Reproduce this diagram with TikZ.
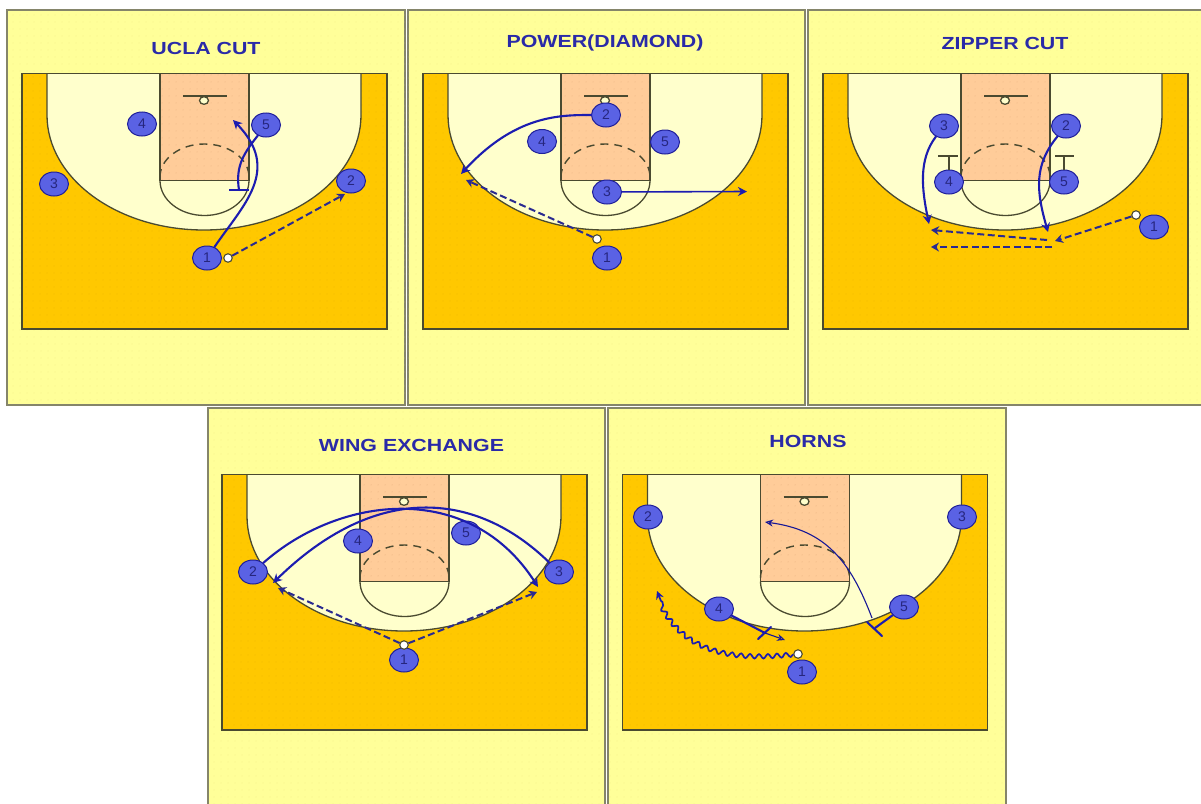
\documentclass[tikz,border=0pt]{standalone}
\usepackage{fontspec}
\setmainfont{Liberation Sans}
\usetikzlibrary{shapes.geometric,arrows.meta,patterns.meta,decorations.pathmorphing}
\definecolor{panelc}{HTML}{FFFF99}
\definecolor{paneld}{HTML}{E8E080}
\definecolor{courtc}{HTML}{FFC800}
\definecolor{courtd}{HTML}{E0AC00}
\definecolor{keyc}{HTML}{FFFFCC}
\definecolor{lanec}{HTML}{FFCC99}
\definecolor{laned}{HTML}{E4A878}
\definecolor{framec}{HTML}{85856A}
\definecolor{linec}{HTML}{4A4A30}
\definecolor{tokenc}{HTML}{5A62E4}
\definecolor{tokenb}{HTML}{20209A}
\definecolor{numc}{HTML}{26267E}
\definecolor{cutc}{HTML}{1C1CB0}
\definecolor{passc}{HTML}{2A2A90}
\definecolor{titlec}{HTML}{2A2AA8}
\tikzset{
  player/.style={shape=ellipse,draw=tokenb,fill=tokenc,line width=1pt,minimum width=29pt,minimum height=24pt,inner sep=0pt,text=numc,font=\fontsize{14}{14}\selectfont},
  ball/.style={shape=circle,draw=linec,fill=white,line width=1.1pt,minimum size=8.5pt,inner sep=0pt},
  title/.style={text=titlec,font=\bfseries\fontsize{17.5}{18}\selectfont,xscale=1.22,inner sep=0pt},
  cut/.style={draw=cutc,line width=2.1pt,line cap=round,-{Stealth[length=9pt,width=9pt]}},
  thincut/.style={draw=cutc!85!black,line width=1.1pt,-{Stealth[length=8pt,width=7pt,open]}},
  pass/.style={draw=passc,line width=2pt,dash pattern=on 7pt off 3.5pt,-{Stealth[length=8pt,width=9pt]}},
  screenline/.style={draw=cutc,line width=2.1pt,line cap=round},
  screenbar/.style={draw=linec,line width=1.8pt},
  panelbox/.style={draw=framec,line width=1.6pt,fill=panelc},
  wiggle/.style={draw=cutc,line width=1.7pt,-{Stealth[length=8pt,width=8pt]},decorate,decoration={snake,amplitude=2.2pt,segment length=9pt,post length=8pt}}
}
\newcommand{\courtbase}[2]{%
\begin{scope}[shift={(#1,#2)}]
  \fill[courtc] (22,73.5) rectangle (387,329);
  \path[pattern={Dots[distance=6.5pt,radius=0.5pt]},pattern color=courtd] (22,73.5) rectangle (387,329);
  \path[fill=keyc] (47,73.5) -- (47,115) arc[start angle=180,end angle=0,x radius=157,y radius=115] -- (361,73.5) -- cycle;
  \draw[linec,line width=1.3pt] (47,73.5) -- (47,115) arc[start angle=180,end angle=0,x radius=157,y radius=115] -- (361,73.5);
  \fill[lanec] (160,73.5) rectangle (249,180.5);
  \path[pattern={Dots[distance=6.5pt,radius=0.5pt]},pattern color=laned] (160,73.5) rectangle (249,180.5);
  \draw[linec,line width=1.3pt] (160,73.5) -- (160,180.5) -- (249,180.5) -- (249,73.5);
  \draw[linec,line width=1.3pt] (160,180.5) arc[start angle=180,end angle=0,x radius=44.5,y radius=35];
  \draw[linec,line width=1.4pt,dash pattern=on 8pt off 6pt] (160,177) arc[start angle=180,end angle=360,x radius=44.5,y radius=33];
  \draw[linec,line width=1.3pt] (183,96) -- (227,96);
  \draw[linec,line width=1.3pt,fill=keyc] (204,100.5) ellipse[x radius=4.5,y radius=3.8];
  \draw[linec,line width=1.6pt] (22,73.5) rectangle (387,329);
\end{scope}}
\begin{document}
\begin{tikzpicture}[x=1pt,y=-1pt]
\useasboundingbox[fill=white] (0,0) rectangle (1201,803);
% panels
\path[panelbox] (7,10) rectangle (405,405);
\path[panelbox] (408,10) rectangle (805,405);
\path[panelbox] (808,10) rectangle (1206,405);
\path[panelbox] (208,408) rectangle (605,810);
\path[panelbox] (608,408) rectangle (1006,810);
\foreach \a/\b/\c/\d in {7/10/405/405,408/10/805/405,808/10/1201/405,208/408/605/803,608/408/1006/803}
  \path[pattern={Dots[distance=6.5pt,radius=0.5pt]},pattern color=paneld] (\a,\b) rectangle (\c,\d);
\courtbase{0}{0}
\courtbase{401}{0}
\courtbase{801}{0}
\courtbase{200}{401}
\courtbase{600.5}{401}
% titles
\node[title] (ta) at (206,48) {UCLA CUT};
\node[title] (tb) at (605,43) {POWER(DIAMOND)};
\node[title] (tc) at (1005,43) {ZIPPER CUT};
\node[title] (td) at (411.5,445) {WING EXCHANGE};
\node[title] (te) at (808,441) {HORNS};
% ---------- UCLA CUT
\node[player] (a1) at (207,258) {1};
\node[player] (a2) at (351,181) {2};
\node[player] (a3) at (54,184) {3};
\node[player] (a4) at (142,124) {4};
\node[player] (a5) at (266,125) {5};
\node[ball] (ab) at (228,258) {};
\coordinate (ae1) at (233,120);
\coordinate (ae2) at (345,194);
\coordinate (as) at (239,190);
\coordinate (asl) at (229,190);
\coordinate (asr) at (249,190);
\draw[cut] (a1) .. controls (243,205) and (282,170) .. (ae1);
\draw[screenline] (a5) .. controls (245,152) and (235,165) .. (as);
\draw[screenbar,draw=cutc] (asl) -- (asr);
\draw[pass] (ab) -- (ae2);
% ---------- POWER
\node[player] (b1) at (607,258) {1};
\node[player] (b2) at (606,115) {2};
\node[player] (b3) at (607,192) {3};
\node[player] (b4) at (542,141.5) {4};
\node[player] (b5) at (665,142) {5};
\node[ball] (bb) at (597,239) {};
\coordinate (be1) at (461,174);
\coordinate (be2) at (747,191.5);
\coordinate (be3) at (466,180);
\draw[cut] (b2) .. controls (560,115) and (515,115) .. (be1);
\draw[cut,line width=1.6pt] (b3) -- (be2);
\draw[pass] (bb) -- (be3);
% ---------- ZIPPER CUT
\node[player] (c1) at (1154,227) {1};
\node[player] (c2) at (1066,126) {2};
\node[player] (c3) at (944,126) {3};
\node[player] (c4) at (949,182) {4};
\node[player] (c5) at (1064,182) {5};
\node[ball] (cb) at (1136,215) {};
\coordinate (ce1) at (929,224);
\coordinate (ce2) at (1048,232);
\coordinate (ce3) at (1055,241);
\coordinate (cp1) at (1047,240);
\coordinate (cq1) at (931,230);
\coordinate (cp2) at (1052,247);
\coordinate (cq2) at (931,247);
\coordinate (cs1a) at (949,156);
\coordinate (cs1l) at (938,156);
\coordinate (cs1r) at (958,156);
\coordinate (cs2a) at (1064,156);
\coordinate (cs2l) at (1055,156);
\coordinate (cs2r) at (1074,156);
\draw[screenbar] (c4) -- (cs1a);
\draw[screenbar] (cs1l) -- (cs1r);
\draw[screenbar] (c5) -- (cs2a);
\draw[screenbar] (cs2l) -- (cs2r);
\draw[cut] (c3) .. controls (918,160) and (922,190) .. (ce1);
\draw[cut] (c2) .. controls (1034,165) and (1036,190) .. (ce2);
\draw[pass] (cb) -- (ce3);
\draw[pass] (cp1) -- (cq1);
\draw[pass] (cp2) -- (cq2);
% ---------- WING EXCHANGE
\node[player] (d1) at (404,660) {1};
\node[player] (d2) at (253,572) {2};
\node[player] (d3) at (559,572) {3};
\node[player] (d4) at (358,541) {4};
\node[player] (d5) at (466,533) {5};
\node[ball] (db) at (404,645) {};
\coordinate (de1) at (273,583);
\coordinate (de2) at (538,587);
\coordinate (de3) at (278,588);
\coordinate (de4) at (537,592);
\draw[cut] (d3) .. controls (475,490) and (375,483) .. (de1);
\draw[cut] (d2) .. controls (340,495) and (470,480) .. (de2);
\draw[pass] (db) -- (de3);
\draw[pass] (db) -- (de4);
% ---------- HORNS
\node[player] (e1) at (802,672) {1};
\node[player] (e2) at (648,517) {2};
\node[player] (e3) at (962,517) {3};
\node[player] (e4) at (719,609) {4};
\node[player] (e5) at (904,607) {5};
\node[ball] (eb) at (798,654) {};
\coordinate (ee1) at (657,591);
\coordinate (ee2) at (785,640);
\coordinate (ee3) at (765,522);
\coordinate (estart) at (872,618);
\coordinate (es4) at (765,633);
\coordinate (es4a) at (758,639);
\coordinate (es4b) at (771,627);
\coordinate (es5) at (875,628);
\coordinate (es5a) at (867,622);
\coordinate (es5b) at (882,636);
\draw[wiggle] (eb) .. controls (735,660) and (680,655) .. (ee1);
\draw[screenline] (e4) -- (es4);
\draw[screenline] (es4a) -- (es4b);
\draw[thincut] (es4) -- (ee2);
\draw[screenline] (e5) -- (es5);
\draw[screenline] (es5a) -- (es5b);
\draw[thincut] (estart) .. controls (850,560) and (825,530) .. (ee3);
\end{tikzpicture}
\end{document}
